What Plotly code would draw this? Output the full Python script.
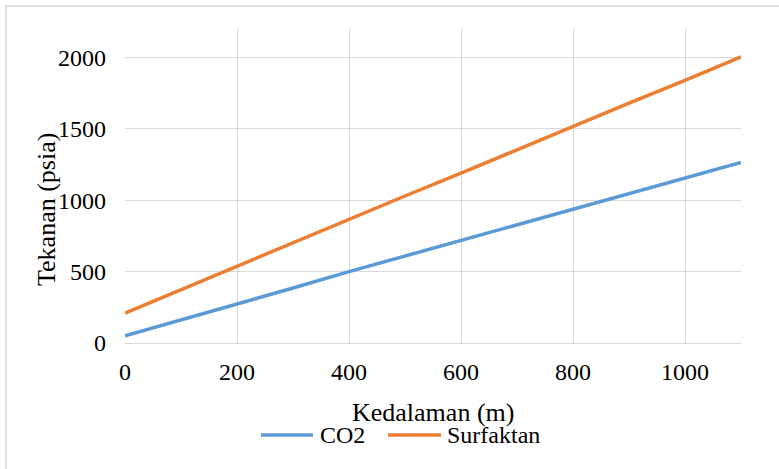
import plotly.graph_objects as go

depth = [0, 100, 200, 300, 400, 500, 600, 700, 800, 900, 1000, 1100]
co2 = [50, 160, 275, 385, 500, 610, 720, 830, 940, 1050, 1160, 1265]
surfaktan = [210, 375, 540, 700, 865, 1030, 1190, 1355, 1515, 1680, 1840, 2005]
series_names = ["CO2", "Surfaktan"]
series_colors = ["#5B9BD5", "#ED7D31"]
x_title = "Kedalaman (m)"
y_title = "Tekanan (psia)"

FONT = "Times New Roman, Liberation Serif, DejaVu Serif, serif"

fig = go.Figure()
for name, vals, col in zip(series_names, [co2, surfaktan], series_colors):
    fig.add_trace(go.Scatter(x=depth, y=vals, mode="lines", name=name,
                             line=dict(color=col, width=3.5), showlegend=False))

L, R, T, B = 125, 38, 29, 126
W, H = 779, 469
pw, ph = W - L - R, H - T - B

def px(x):
    return (x - L) / pw

def py(y):
    return (H - B - y) / ph

shapes = [dict(type="rect", xref="paper", yref="paper",
               x0=px(6), x1=px(800), y0=py(500), y1=py(6),
               line=dict(color="#d9d9d9", width=1.5), fillcolor="rgba(0,0,0,0)",
               layer="below")]
annotations = [
    dict(text=x_title, xref="paper", yref="paper", x=px(433), y=py(412),
         xanchor="center", yanchor="middle", showarrow=False,
         font=dict(family=FONT, size=26, color="black")),
    dict(text=y_title, xref="paper", yref="paper", x=px(46), y=py(210),
         xanchor="center", yanchor="middle", showarrow=False, textangle=-90,
         font=dict(family=FONT, size=26, color="black")),
]
# manual legend
leg = [(261, 313, 318), (388, 441, 445)]
for (l0, l1, tx), name, col in zip(leg, series_names, series_colors):
    shapes.append(dict(type="line", xref="paper", yref="paper",
                       x0=px(l0), x1=px(l1), y0=py(435), y1=py(435),
                       line=dict(color=col, width=3.5)))
    annotations.append(dict(text=name, xref="paper", yref="paper", x=px(tx), y=py(435),
                            xanchor="left", yanchor="middle", showarrow=False,
                            font=dict(family=FONT, size=24, color="black")))

fig.update_layout(
    width=W, height=H,
    margin=dict(l=L, r=R, t=T, b=B),
    paper_bgcolor="white", plot_bgcolor="white",
    font=dict(family=FONT, size=24, color="black"),
    showlegend=False,
    xaxis=dict(range=[0, 1100], dtick=200, tick0=0, showgrid=True,
               gridcolor="#d9d9d9", gridwidth=1, showline=True, linecolor="#d9d9d9",
               linewidth=1, zeroline=False, ticks="", ticklabelstandoff=7,
               tickfont=dict(family=FONT, size=24),
               automargin=False, fixedrange=True),
    yaxis=dict(range=[0, 2200], dtick=500, tick0=0, showgrid=True,
               gridcolor="#d9d9d9", gridwidth=1, showline=False, zeroline=True,
               zerolinecolor="#d9d9d9", zerolinewidth=1, ticks="", ticklabelstandoff=18,
               tickfont=dict(family=FONT, size=24),
               automargin=False, fixedrange=True),
    shapes=shapes,
    annotations=annotations,
)

fig.write_html("out.html")
